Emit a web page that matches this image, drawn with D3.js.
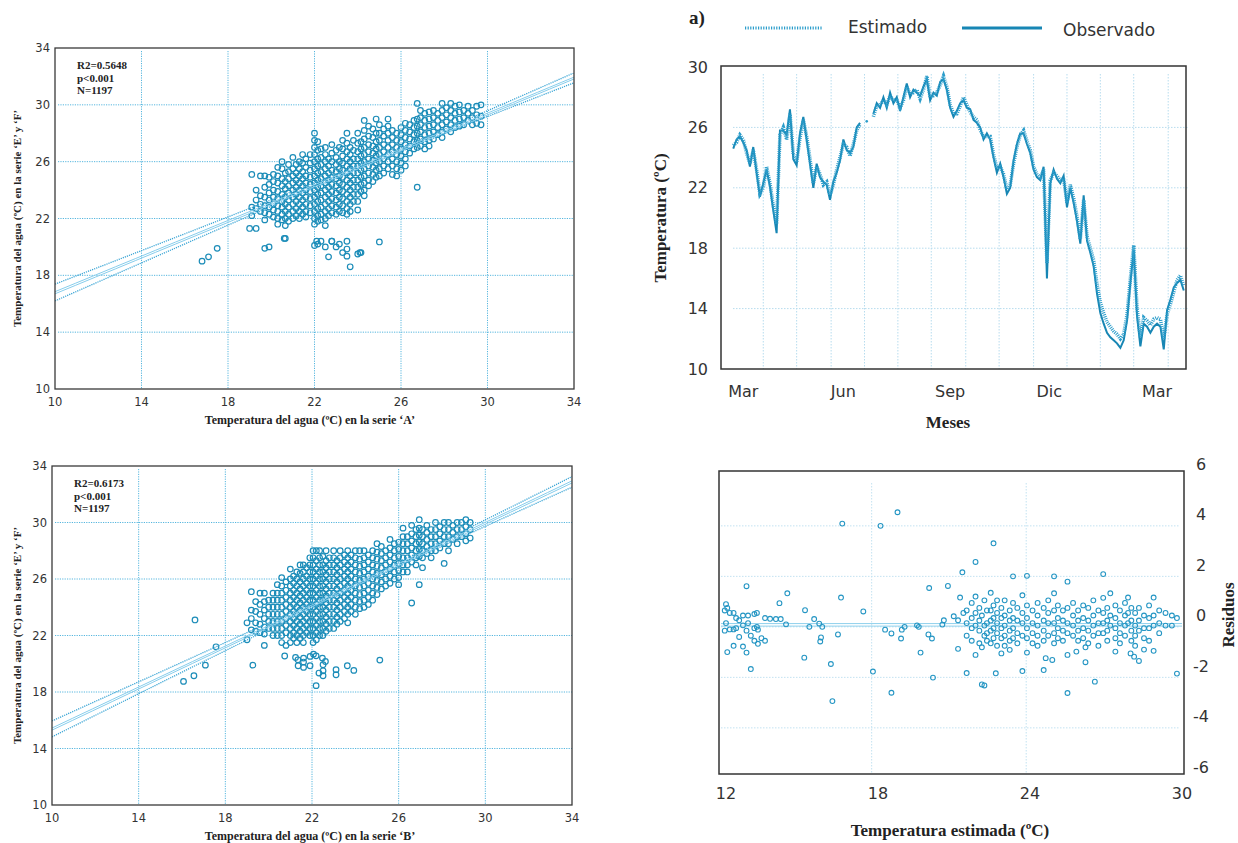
<!DOCTYPE html>
<html>
<head>
<meta charset="utf-8">
<script src="https://cdn.jsdelivr.net/npm/d3@7"></script>
<style>
  body { margin: 0; background: #fff; }
  svg { display: block; }
</style>
</head>
<body>
<svg id="fig" width="1238" height="843"></svg>
<script>
// ---------- data ----------
const scatterTicks = [10, 14, 18, 22, 26, 30, 34]
const scatterGrid = [14, 18, 22, 26, 30]

// columns of the 'A' scatter: [x, [y...]]
const colsA = [
  [19.1, [25.1, 22.8, 22.2]],
  [19.3, [24.0, 23.3, 22.7, 21.3]],
  [19.5, [25.0, 23.6, 23.0, 22.5]],
  [19.7, [25.0, 24.2, 23.5, 22.9, 22.4, 21.9]],
  [19.9, [24.9, 24.4, 23.8, 23.3, 22.8, 22.3, 20.0]],
  [20.1, [25.1, 24.6, 24.0, 23.5, 23.0, 22.6, 22.1]],
  [20.3, [25.6, 25.0, 24.5, 23.9, 23.4, 22.9, 22.5, 22.0, 21.6]],
  [20.5, [26.0, 25.5, 24.8, 24.3, 23.7, 23.2, 22.8, 22.3, 21.9]],
  [20.65, [25.2, 24.6, 24.1, 23.5, 23.0, 22.5, 22.0, 21.5, 20.6]],
  [20.8, [25.8, 25.3, 24.8, 24.3, 23.8, 23.3, 22.8, 22.3, 21.8]],
  [21.0, [26.3, 25.5, 25.0, 24.5, 24.0, 23.5, 23.0, 22.5, 22.0]],
  [21.15, [25.8, 25.2, 24.7, 24.2, 23.7, 23.2, 22.7, 22.2]],
  [21.3, [26.0, 25.5, 25.0, 24.5, 24.0, 23.5, 23.0, 22.5, 22.0]],
  [21.45, [26.5, 25.9, 25.3, 24.8, 24.3, 23.8, 23.3, 22.8, 22.3]],
  [21.6, [26.2, 25.6, 25.0, 24.5, 24.0, 23.5, 23.0, 22.5, 22.1]],
  [21.8, [26.5, 25.9, 25.4, 24.9, 24.4, 23.9, 23.4, 22.9, 22.4]],
  [22.0, [28.0, 27.5, 27.0, 26.5, 26.0, 25.5, 25.0, 24.5, 24.0, 23.5, 23.0, 22.5, 22.0, 21.6, 20.1]],
  [22.15, [27.4, 26.8, 26.2, 25.7, 25.2, 24.7, 24.2, 23.7, 23.2, 22.7, 22.2, 21.8, 20.2]],
  [22.3, [26.9, 26.3, 25.8, 25.3, 24.8, 24.3, 23.8, 23.3, 22.8, 22.3, 21.9, 20.4]],
  [22.5, [27.0, 26.5, 26.0, 25.5, 25.0, 24.5, 24.0, 23.5, 23.0, 22.5, 22.0, 21.5, 20.0]],
  [22.65, [26.2, 25.7, 25.2, 24.7, 24.2, 23.7, 23.2, 22.7, 22.2, 19.3]],
  [22.8, [27.2, 26.6, 26.0, 25.4, 24.9, 24.4, 23.9, 23.4, 22.9, 22.4, 20.4]],
  [23.0, [26.8, 26.3, 25.8, 25.3, 24.8, 24.3, 23.8, 23.3, 22.8, 22.3, 20.0]],
  [23.15, [27.0, 26.0, 25.5, 25.0, 24.5, 24.0, 23.5, 23.0, 22.5, 20.2]],
  [23.3, [27.5, 26.9, 26.4, 25.9, 25.4, 24.9, 24.4, 23.9, 23.4, 22.9, 22.4, 19.6]],
  [23.5, [28.0, 27.3, 26.7, 26.2, 25.7, 25.2, 24.7, 24.2, 23.7, 23.2, 22.7, 22.3, 20.4, 19.85, 19.35]],
  [23.65, [27.0, 26.5, 26.0, 25.5, 25.0, 24.5, 24.0, 23.5, 23.0, 22.5, 18.6]],
  [23.8, [27.5, 26.8, 26.2, 25.7, 25.2, 24.7, 24.2, 23.7, 23.2]],
  [24.0, [28.0, 27.3, 26.7, 26.2, 25.7, 25.2, 24.7, 24.2, 23.7, 23.2, 22.6, 19.5]],
  [24.15, [27.4, 26.9, 26.4, 25.9, 25.4, 24.9, 24.4, 23.9, 19.6]],
  [24.3, [28.9, 28.2, 27.6, 27.0, 26.5, 26.0, 25.5, 25.0, 24.5, 24.0, 23.6]],
  [24.5, [28.5, 27.8, 27.2, 26.7, 26.2, 25.7, 25.2, 24.7, 24.3]],
  [24.7, [28.3, 27.7, 27.1, 26.6, 26.1, 25.6, 25.1, 24.6]],
  [24.85, [29.0, 28.0, 27.4, 26.9, 26.4, 25.9, 25.4, 24.9]],
  [25.0, [28.6, 28.0, 27.5, 27.0, 26.5, 26.0, 25.5, 25.0, 20.35]],
  [25.2, [28.3, 27.8, 27.2, 26.7, 26.2, 25.7, 25.2]],
  [25.4, [29.0, 28.5, 28.0, 27.5, 27.0, 26.5, 26.0, 25.5]],
  [25.6, [28.2, 27.7, 27.2, 26.7, 26.2, 25.7, 25.1]],
  [25.8, [28.0, 27.5, 27.0, 26.5, 26.0, 25.5, 25.0]],
  [26.0, [28.4, 27.9, 27.4, 26.9, 26.4, 25.9, 25.4]],
  [26.2, [28.7, 28.2, 27.7, 27.2, 26.7, 26.2, 25.7]],
  [26.4, [28.6, 28.1, 27.6, 27.1, 26.6]],
  [26.6, [28.9, 28.4, 27.9, 27.4, 26.9]],
  [26.75, [30.1, 29.0, 28.5, 28.0, 27.5, 27.0, 24.2]],
  [26.9, [29.6, 29.1, 28.6, 28.1, 27.6, 27.1]],
  [27.1, [29.4, 28.9, 28.4, 27.9, 27.4, 26.9]],
  [27.3, [29.5, 29.0, 28.5, 28.0, 27.5, 27.1]],
  [27.5, [29.6, 29.1, 28.6, 28.1, 27.6]],
  [27.7, [29.4, 28.9, 28.4, 27.9]],
  [27.9, [30.1, 29.6, 29.1, 28.6, 28.1, 27.7]],
  [28.1, [29.8, 29.3, 28.8, 28.3]],
  [28.3, [30.1, 29.6, 29.1, 28.6, 28.1]],
  [28.5, [29.9, 29.4, 28.9, 28.4]],
  [28.7, [30.0, 29.5, 29.0, 28.5]],
  [28.9, [29.6, 29.1, 28.6]],
  [29.1, [29.9, 29.4, 28.9]],
  [29.3, [29.6, 29.1, 28.6]],
  [29.5, [29.9, 29.3, 28.7]],
  [29.7, [30.0, 29.2, 28.6]]
]
const loneA = [[16.8, 19.0], [17.1, 19.3], [17.5, 19.9], [19.0, 21.3], [19.7, 19.9], [20.6, 20.6], [22.1, 20.4], [22.8, 20.4], [24.1, 19.6]]

const colsB = [
  [19.0, [22.9, 21.7]],
  [19.2, [25.1, 23.8, 23.2, 22.4]],
  [19.4, [24.4, 23.7, 22.9, 22.3]],
  [19.6, [25.0, 24.2, 23.5, 22.8, 22.2]],
  [19.8, [25.0, 24.4, 23.8, 23.2, 22.6, 22.1]],
  [20.0, [24.5, 24.0, 23.5, 23.0, 22.5]],
  [20.2, [25.0, 24.5, 24.0, 23.5, 23.0, 22.5, 22.0]],
  [20.4, [25.6, 25.0, 24.5, 24.0, 23.5, 23.0, 22.5, 22.0]],
  [20.6, [26.1, 25.5, 25.0, 24.5, 24.0, 23.5, 23.0, 22.5, 22.0, 21.5]],
  [20.8, [25.8, 25.2, 24.7, 24.2, 23.7, 23.2, 22.7, 22.2]],
  [21.0, [26.7, 26.0, 25.5, 25.0, 24.5, 24.0, 23.5, 23.0, 22.5, 22.0, 21.5]],
  [21.15, [26.2, 25.7, 25.2, 24.7, 24.2, 23.7, 23.2, 22.7, 22.2, 21.8]],
  [21.3, [26.5, 26.0, 25.5, 25.0, 24.5, 24.0, 23.5, 23.0, 22.5, 22.0, 21.5]],
  [21.45, [27.0, 26.4, 25.8, 25.3, 24.8, 24.3, 23.8, 23.3, 22.8, 22.3, 21.8]],
  [21.6, [27.0, 26.5, 26.0, 25.5, 25.0, 24.5, 24.0, 23.5, 23.0, 22.5, 22.0, 21.5]],
  [21.75, [26.8, 26.2, 25.7, 25.2, 24.7, 24.2, 23.7, 23.2, 22.7, 22.2]],
  [21.9, [27.5, 27.0, 26.5, 26.0, 25.5, 25.0, 24.5, 24.0, 23.5, 23.0, 22.5, 22.0]],
  [22.05, [28.0, 27.5, 27.0, 26.5, 26.0, 25.5, 25.0, 24.5, 24.0, 23.5, 23.0, 22.5, 22.0, 21.5]],
  [22.2, [28.0, 27.3, 26.7, 26.2, 25.7, 25.2, 24.7, 24.2, 23.7, 23.2, 22.7, 22.2, 21.7]],
  [22.35, [28.0, 27.5, 27.0, 26.5, 26.0, 25.5, 25.0, 24.5, 24.0, 23.5, 23.0, 22.5, 22.0]],
  [22.5, [27.6, 27.0, 26.5, 26.0, 25.5, 25.0, 24.5, 24.0, 23.5, 23.0, 22.5, 22.0]],
  [22.65, [28.0, 27.3, 26.8, 26.3, 25.8, 25.3, 24.8, 24.3, 23.8, 23.3, 22.8, 22.3]],
  [22.8, [27.5, 27.0, 26.5, 26.0, 25.5, 25.0, 24.5, 24.0, 23.5, 23.0, 22.5]],
  [23.0, [28.0, 27.5, 27.0, 26.5, 26.0, 25.5, 25.0, 24.5, 24.0, 23.5, 23.0, 22.5]],
  [23.15, [27.3, 26.8, 26.3, 25.8, 25.3, 24.8, 24.3, 23.8, 23.3, 22.8]],
  [23.3, [28.0, 27.5, 27.0, 26.5, 26.0, 25.5, 25.0, 24.5, 24.0, 23.5, 23.0]],
  [23.5, [27.7, 27.2, 26.7, 26.2, 25.7, 25.2, 24.7, 24.2, 23.7, 23.2]],
  [23.65, [28.0, 27.5, 27.0, 26.5, 26.0, 25.5, 25.0, 24.5, 24.0, 23.5, 22.9]],
  [23.8, [27.7, 27.2, 26.7, 26.2, 25.7, 25.2, 24.7, 24.2, 23.7]],
  [24.0, [28.0, 27.5, 27.0, 26.5, 26.0, 25.5, 25.0, 24.5, 24.0, 23.5]],
  [24.2, [28.0, 27.4, 26.9, 26.4, 25.9, 25.4, 24.9, 24.4, 23.9]],
  [24.4, [28.0, 27.5, 27.0, 26.5, 26.0, 25.5, 25.0, 24.5, 24.0]],
  [24.6, [27.7, 27.2, 26.7, 26.2, 25.7, 25.2, 24.7, 24.2]],
  [24.8, [28.0, 27.5, 27.0, 26.5, 26.0, 25.5, 25.0, 24.5]],
  [25.0, [28.5, 27.9, 27.4, 26.9, 26.4, 25.9, 25.4, 24.9]],
  [25.2, [28.3, 27.8, 27.3, 26.8, 26.3, 25.8, 25.3]],
  [25.4, [28.0, 27.5, 27.0, 26.5, 26.0, 25.5]],
  [25.6, [28.8, 28.2, 27.7, 27.2, 26.7, 26.2, 25.7]],
  [25.8, [28.5, 28.0, 27.5, 27.0, 26.5, 26.0]],
  [26.0, [28.6, 28.1, 27.6, 27.1, 26.6, 26.1, 25.6]],
  [26.2, [29.6, 29.0, 28.5, 28.0, 27.5, 27.0, 26.5]],
  [26.4, [29.0, 28.5, 28.0, 27.5, 27.0, 26.5]],
  [26.6, [29.8, 29.2, 28.7, 28.2, 27.7, 27.2, 24.3]],
  [26.8, [29.5, 29.0, 28.5, 28.0, 27.5, 27.0]],
  [26.95, [30.2, 29.6, 29.1, 28.6, 28.1, 27.6, 25.6]],
  [27.1, [29.5, 29.0, 28.5, 28.0, 27.5, 26.8]],
  [27.3, [29.8, 29.3, 28.8, 28.3, 27.8]],
  [27.5, [29.5, 29.0, 28.5, 28.0, 27.5]],
  [27.7, [30.0, 29.5, 29.0, 28.5, 28.0]],
  [27.9, [29.7, 29.2, 28.7, 28.2]],
  [28.1, [30.0, 29.5, 29.0, 28.5, 27.1]],
  [28.3, [30.0, 29.5, 29.0, 28.5, 28.0]],
  [28.5, [29.8, 29.3, 28.8]],
  [28.7, [30.0, 29.5, 29.0, 28.5]],
  [28.9, [30.0, 29.5, 29.0]],
  [29.1, [30.2, 29.7, 29.2, 28.7]],
  [29.3, [30.0, 29.5, 28.9]]
]
const loneB = [
  [16.07, 18.75], [16.55, 19.15], [17.08, 19.9], [17.57, 21.2], [16.6, 23.1], [19.27, 19.9], [19.8, 21.3],
  [20.74, 20.55], [20.8, 21.3], [21.24, 20.45], [21.35, 20.28], [21.36, 19.86], [21.61, 20.4], [21.61, 20.12],
  [21.61, 19.74], [21.91, 20.52], [21.91, 19.86], [22.07, 20.68], [22.19, 20.56], [22.19, 18.45], [22.32, 19.34],
  [22.48, 20.4], [22.51, 19.93], [22.51, 19.5], [22.51, 19.15], [22.62, 20.16], [23.11, 19.58], [23.11, 19.22],
  [23.63, 19.86], [23.93, 19.53], [25.13, 20.26]
]

// regression line and its bands at three x values
const fitX = [10, 24, 34]
const fitA = { up: [17.38, 25.75, 32.25], mid: [16.85, 25.63, 31.95], mid2: [16.7, 25.5, 31.82], lo: [16.2, 25.45, 31.55] }
const fitB = { up: [15.95, 25.75, 33.25], mid: [15.45, 25.62, 32.95], mid2: [15.3, 25.5, 32.8], lo: [14.82, 25.42, 32.5] }

// time series: one value every 3 days from day 11
const tsStart = 11
const tsStep = 3
const tsObs = [
  24.6, 25.2, 25.4, 25.0, 24.5, 23.4, 24.7, 23.0, 21.4, 22.3,
  23.2, 22.1, 20.5, 19.0, 25.8, 25.8, 25.5, 27.2, 23.9, 23.5,
  25.6, 26.7, 25.2, 23.6, 22.0, 23.6, 22.7, 22.4, 22.2, 21.2,
  22.4, 23.0, 23.8, 25.2, 24.5, 24.3, 24.7, 26.0, 26.3,
  null, 26.4, null,
  26.9, 27.6, 27.3, 28.0, 27.3, 28.3, 27.6, 28.0, 27.1, 28.0,
  28.9, 28.0, 28.5, 28.3, 28.1, 28.7, 29.2, 27.8, 28.3, 28.1,
  29.0, 29.2, 28.5, 27.3, 26.7, 27.1, 27.6, 27.8, 27.3, 27.2,
  26.5, 26.3, 26.0, 25.2, 25.6, 25.2, 24.0, 23.0, 23.6, 22.7,
  21.6, 22.0, 23.8, 24.9, 25.6, 25.6, 24.9, 24.3, 23.2, 22.7,
  22.5, 23.4, 16.0, 22.3, 23.2, 22.6, 22.3, 22.8, 20.7, 22.0,
  21.0, 19.8, 18.3, 21.5, 18.5, 17.7, 16.8, 15.0, 13.7, 13.0,
  12.4, 12.1, 11.9, 11.7, 11.4, 11.9, 13.2, 15.7, 17.9, 13.5,
  11.5, 13.0, 12.8, 12.4, 12.8, 13.0, 12.8, 11.3, 13.9, 14.6,
  15.4, 15.7, 15.9, 15.2
]
const tsEst = [
  24.8, 25.0, 25.5, 25.2, 24.3, 23.6, 24.5, 23.2, 21.6, 22.0,
  23.4, 22.3, 20.8, 19.6, 25.5, 26.0, 25.2, 26.9, 24.2, 23.7,
  25.3, 26.5, 25.4, 23.9, 22.3, 23.4, 22.9, 22.2, 22.4, 21.5,
  22.2, 23.2, 24.0, 24.9, 24.7, 24.1, 24.9, 25.8, 26.2,
  null, 26.3, null,
  26.7, 27.4, 27.5, 27.8, 27.5, 28.1, 27.8, 27.8, 27.3, 27.8,
  28.7, 28.2, 28.3, 28.5, 27.9, 28.5, 29.4, 28.0, 28.1, 28.3,
  28.8, 29.4, 28.7, 27.5, 26.9, 26.9, 27.4, 28.0, 27.5, 27.0,
  26.7, 26.5, 25.8, 25.4, 25.4, 25.4, 24.2, 23.3, 23.4, 22.9,
  21.9, 22.2, 23.6, 24.7, 25.5, 25.8, 25.1, 24.5, 23.4, 22.9,
  22.7, 23.2, 17.0, 22.5, 23.0, 22.8, 22.5, 22.6, 21.0, 22.2,
  21.3, 20.1, 18.6, 21.2, 18.8, 18.0, 17.2, 15.6, 14.4, 13.7,
  13.1, 12.8, 12.5, 12.3, 12.0, 12.3, 13.6, 16.0, 18.2, 14.0,
  12.1, 13.4, 13.2, 12.9, 13.3, 13.4, 13.3, 12.0, 13.6, 14.3,
  15.1, 15.9, 16.2, 15.5
]
const tsTicksY = [10, 14, 18, 22, 26, 30]
const tsGridY = [14, 18, 22, 26]
const tsGridDays = [38, 68, 99, 129, 159, 189, 220, 250, 281, 311, 341, 371, 402]
const monthDays = [20, 110, 206, 295, 392]
const monthLabels = ["Mar", "Jun", "Sep", "Dic", "Mar"]

// residuals: columns [x, [y...]]
const resCols = [
  [11.95, [0.2, -0.6]], [12.0, [0.45, -0.3]], [12.05, [-1.45, 0.3]], [12.15, [-0.55, 0.1]],
  [12.3, [-0.55, 0.1, -1.2]], [12.4, [-0.5, -0.1]], [12.52, [-0.19, -0.85]], [12.67, [0.0, -0.39, -1.23]],
  [12.81, [1.16, -0.6, -1.47]], [12.87, [0.0, -0.3]], [12.98, [-2.12, -0.8]], [13.12, [0.06, -0.5, -1.0]],
  [13.22, [-0.45, 0.1]], [13.26, [-0.56, -1.12]], [13.4, [-0.9]], [13.54, [-0.1, -1.0]], [13.74, [-0.13]],
  [13.97, [-0.14]], [14.11, [0.49]], [14.16, [-0.14]], [14.37, [-0.35]], [14.42, [0.88]],
  [15.09, [-1.67]], [15.12, [0.21]], [15.29, [-0.45]], [15.48, [-0.14]], [15.68, [-0.32]],
  [15.72, [-1.03]], [15.75, [-0.87]], [15.8, [-0.45]], [16.14, [-1.92]], [16.2, [-3.39]],
  [16.42, [-0.75]], [16.54, [0.71]], [16.59, [3.64]], [17.42, [0.16]], [17.8, [-2.22]],
  [18.1, [3.55]], [18.28, [-0.56]], [18.53, [-0.71, -3.06]], [18.77, [4.09]], [18.91, [-0.91]],
  [18.94, [-0.56]], [19.05, [-0.45]], [19.54, [-0.39]], [19.61, [-0.45]], [19.68, [-1.47]],
  [19.99, [-0.75]], [20.02, [1.09]], [20.13, [-0.91]], [20.17, [-2.46]], [20.54, [-0.36]],
  [20.6, [-0.19]], [20.76, [1.17]], [20.99, [-0.03]], [21.16, [-0.19, -1.32]], [21.24, [0.71]],
  [21.33, [1.71]], [21.37, [0.1]],
  [21.5, [0.2, -0.3, -0.8, -2.28]], [21.7, [0.5, -0.1, -0.5, -1.0]], [21.85, [0.75, 0.1, -0.4, -1.56, 2.12]],
  [22.0, [0.3, -0.2, -0.6, -1.1]], [22.1, [0.0, -1.26, -2.73]], [22.2, [0.6, -0.4, -0.8, -2.77]],
  [22.3, [0.2, -0.3, -0.7, -1.0]], [22.45, [0.9, 0.2, -0.2, -0.6, -1.1]],
  [22.56, [2.86, 0.4, -0.1, -0.5, -0.9]], [22.65, [-2.29]], [22.7, [0.6, 0.1, -0.3, -0.7, -1.2]],
  [22.87, [0.3, -0.1, -0.5, -0.9, -1.5]], [23.0, [0.6, 0.0, -0.4, -0.8, -1.2]],
  [23.2, [0.2, -0.2, -0.6, -1.0, -1.36]], [23.33, [1.55, 0.5, -0.1, -0.5, -0.9]],
  [23.5, [0.3, -0.2, -0.7, -1.1]], [23.7, [0.8, 0.1, -0.3, -0.8, -2.2]],
  [23.88, [1.57, 0.4, -0.1, -0.5, -0.9, -1.47]], [24.1, [0.2, -0.3, -0.7, -1.1]],
  [24.3, [0.5, 0.0, -0.4, -0.8, -1.2]], [24.54, [0.3, -0.2, -0.6, -1.0, -2.16]],
  [24.62, [-1.69]], [24.72, [0.6, 0.1, -0.3, -0.8]], [24.88, [-1.76]],
  [24.95, [1.55, 0.88, 0.2, -0.3, -0.7, -1.1]], [25.1, [0.4, -0.1, -0.5, -0.9]],
  [25.3, [0.2, -0.2, -0.6, -1.0]], [25.48, [1.34, 0.3, -0.3, -0.7, -1.56, -3.07]],
  [25.7, [0.5, 0.0, -0.4, -0.8]], [25.83, [-1.43]], [25.9, [0.2, -0.2, -0.6, -1.0]],
  [26.1, [0.4, -0.1, -0.5, -0.9]], [26.19, [-1.26, -1.85]], [26.3, [0.3, -0.2, -0.6, -1.1]],
  [26.5, [0.6, 0.0, -0.4, -0.8]], [26.56, [-2.62]], [26.7, [0.2, -0.3, -0.7, -1.2]],
  [26.89, [1.64, 0.7, 0.1, -0.3, -0.7]], [27.05, [0.3, -0.2, -0.6, -1.0]],
  [27.17, [0.88, 0.0, -0.4]], [27.37, [0.4, -0.1, -0.5, -0.9, -1.43]],
  [27.55, [0.2, -0.3, -0.7, -1.1]], [27.75, [0.5, 0.0, -0.4, -0.8]],
  [27.87, [0.71, 0.1, -0.3]], [27.97, [-1.5]], [28.0, [0.3, -0.2, -0.6, -1.0]],
  [28.11, [-1.63]], [28.15, [0.1, -0.4, -0.8, -1.2]], [28.3, [0.3, -0.2, -0.6, -1.8]],
  [28.5, [0.0, -0.5, -0.9, -1.35]], [28.7, [0.4, -0.1, -0.5, -1.0]],
  [28.88, [0.71, 0.0, -0.4, -1.4]], [29.1, [0.2, -0.3, -0.7]], [29.35, [0.1, -0.4]],
  [29.6, [0.0, -0.4]], [29.8, [-2.3, -0.1]]
]
const resTicksX = [12, 18, 24, 30]
const resTicksY = [6, 4, 2, 0, -2, -4, -6]
const resGridY = [3.55, 1.55, -0.45, -2.45, -4.45]
const resGridX = [17.75, 23.85]
const resMeanY = [-0.32, -0.42]

// ---------- drawing ----------
const svg = d3.select("#fig")
const blue = "#1b8cb8"
const gridBlue = "#56b6de"
const sans = "'DejaVu Sans', sans-serif"
const serif = "'Liberation Serif', serif"

function flatten(cols, lone) {
  let pts = []
  cols.forEach(([x, ys]) => ys.forEach(y => pts.push([x, y])))
  return pts.concat(lone)
}

function scatterPanel(cfg) {
  let g = svg.append("g")
  let x = d3.scaleLinear().domain([10, 34]).range([cfg.left, cfg.right])
  let y = d3.scaleLinear().domain([10, 34]).range([cfg.bottom, cfg.top])

  g.append("clipPath").attr("id", cfg.id)
    .append("rect")
    .attr("x", cfg.left).attr("y", cfg.top)
    .attr("width", cfg.right - cfg.left).attr("height", cfg.bottom - cfg.top)

  // dotted grid
  g.selectAll("line.gx").data(scatterGrid).join("line")
    .attr("class", "gx")
    .attr("x1", x).attr("x2", x)
    .attr("y1", cfg.top + 3).attr("y2", cfg.bottom)
    .attr("stroke", gridBlue).attr("stroke-width", 1).attr("stroke-dasharray", "1.2,1.2")
  g.selectAll("line.gy").data(scatterGrid).join("line")
    .attr("class", "gy")
    .attr("x1", cfg.left + 3).attr("x2", cfg.right)
    .attr("y1", y).attr("y2", y)
    .attr("stroke", gridBlue).attr("stroke-width", 1).attr("stroke-dasharray", "1.2,1.2")

  // points
  g.append("g").attr("clip-path", `url(#${cfg.id})`)
    .selectAll("circle").data(flatten(cfg.cols, cfg.lone)).join("circle")
    .attr("cx", d => x(d[0])).attr("cy", d => y(d[1])).attr("r", 2.8)
    .attr("fill", "none").attr("stroke", blue).attr("stroke-width", 1.2)

  // fit lines
  let fit = cfg.fit
  let path = key => d3.line().curve(d3.curveNatural)
    .x((d, i) => x(fitX[i])).y(d => y(d))(fit[key])
  let fg = g.append("g").attr("clip-path", `url(#${cfg.id})`).attr("fill", "none")
  fg.append("path").attr("d", path("up")).attr("stroke", "#3aa5d5").attr("stroke-width", 1.3).attr("stroke-dasharray", "1.2,1")
  fg.append("path").attr("d", path("lo")).attr("stroke", "#3aa5d5").attr("stroke-width", 1.3).attr("stroke-dasharray", "1.2,1")
  fg.append("path").attr("d", path("mid")).attr("stroke", "#86cdec").attr("stroke-width", 1)
  fg.append("path").attr("d", path("mid2")).attr("stroke", "#86cdec").attr("stroke-width", 1)

  // frame
  g.append("rect")
    .attr("x", cfg.left).attr("y", cfg.top)
    .attr("width", cfg.right - cfg.left).attr("height", cfg.bottom - cfg.top)
    .attr("fill", "none").attr("stroke", "#3a3a3a").attr("stroke-width", 1.3)

  // tick labels
  g.selectAll("text.ty").data(scatterTicks).join("text")
    .attr("class", "ty")
    .attr("x", cfg.left - 5).attr("y", y).attr("dy", "0.35em")
    .attr("text-anchor", "end")
    .style("font", `11.5px ${sans}`).attr("fill", "#333")
    .text(d => d)
  g.selectAll("text.tx").data(scatterTicks).join("text")
    .attr("class", "tx")
    .attr("x", x).attr("y", cfg.bottom + 17)
    .attr("text-anchor", "middle")
    .style("font", `11.5px ${sans}`).attr("fill", "#333")
    .text(d => d)

  // axis titles
  g.append("text")
    .attr("x", 310).attr("y", cfg.bottom + 35)
    .attr("text-anchor", "middle")
    .style("font", `bold 12px ${serif}`).attr("fill", "#222")
    .text(cfg.xTitle)
  g.append("text")
    .attr("transform", `translate(21,${(cfg.top + cfg.bottom) / 2}) rotate(-90)`)
    .attr("text-anchor", "middle")
    .style("font", `bold 11px ${serif}`).attr("fill", "#222")
    .text("Temperatura del agua (ºC) en la serie ‘E’ y ‘F’")

  // stats box
  g.selectAll("text.st").data(cfg.stats).join("text")
    .attr("class", "st")
    .attr("x", cfg.left + 22).attr("y", (d, i) => cfg.top + 21 + i * 12.5)
    .style("font", `bold 11px ${serif}`).attr("fill", "#222")
    .text(d => d)
}

scatterPanel({
  id: "clipA", left: 55, right: 574, top: 48, bottom: 389,
  cols: colsA, lone: loneA, fit: fitA,
  stats: ["R2=0.5648", "p<0.001", "N=1197"],
  xTitle: "Temperatura del agua (ºC) en la serie ‘A’"
})
scatterPanel({
  id: "clipB", left: 52, right: 572, top: 466, bottom: 805,
  cols: colsB, lone: loneB, fit: fitB,
  stats: ["R2=0.6173", "p<0.001", "N=1197"],
  xTitle: "Temperatura del agua (ºC) en la serie ‘B’"
})

// ---------- time series ----------
{
  let g = svg.append("g")
  let x = d3.scaleLinear().domain([0, 418]).range([721, 1186])
  let y = d3.scaleLinear().domain([10, 30]).range([369, 67])
  let grid = "#b7dcee"

  g.selectAll("line.gy").data(tsGridY).join("line")
    .attr("x1", 733).attr("x2", 1189).attr("y1", y).attr("y2", y)
    .attr("stroke", grid).attr("stroke-dasharray", "1.5,1.5")
  g.selectAll("line.gx").data(tsGridDays).join("line")
    .attr("x1", x).attr("x2", x).attr("y1", 74).attr("y2", 369)
    .attr("stroke", grid).attr("stroke-dasharray", "1.5,1.5")

  let toPts = vals => vals.map((v, i) => ({ day: tsStart + i * tsStep, v }))
  let line = d3.line().defined(d => d.v != null).x(d => x(d.day)).y(d => y(d.v))

  g.append("path").attr("d", line(toPts(tsObs)))
    .attr("fill", "none").attr("stroke", "#1786b4").attr("stroke-width", 2)
  g.append("path").attr("d", line(toPts(tsEst)))
    .attr("fill", "none").attr("stroke", "#2b9dcb").attr("stroke-width", 3.6)
    .attr("stroke-dasharray", "1,1.1")
  // isolated readings
  let lone = toPts(tsObs).filter((d, i, a) => d.v != null && a[i - 1] && a[i - 1].v == null && a[i + 1] && a[i + 1].v == null)
  g.selectAll("circle.lone").data(lone).join("circle")
    .attr("cx", d => x(d.day)).attr("cy", d => y(d.v)).attr("r", 1.3).attr("fill", "#2b9dcb")

  g.append("rect").attr("x", 721).attr("y", 66).attr("width", 465).attr("height", 303)
    .attr("fill", "none").attr("stroke", "#333").attr("stroke-width", 1.5)

  g.selectAll("text.ty").data(tsTicksY).join("text")
    .attr("x", 708).attr("y", y).attr("dy", "0.35em").attr("text-anchor", "end")
    .style("font", `16px ${sans}`).attr("fill", "#333").text(d => d)
  g.selectAll("text.tx").data(monthDays).join("text")
    .attr("x", x).attr("y", 397).attr("text-anchor", "middle")
    .style("font", `16px ${sans}`).attr("fill", "#333").text((d, i) => monthLabels[i])

  g.append("text").attr("x", 948).attr("y", 428).attr("text-anchor", "middle")
    .style("font", `bold 17px ${serif}`).attr("fill", "#222").text("Meses")
  g.append("text").attr("transform", "translate(666,218) rotate(-90)").attr("text-anchor", "middle")
    .style("font", `bold 17px ${serif}`).attr("fill", "#222").text("Temperatura (ºC)")
  g.append("text").attr("x", 689).attr("y", 24)
    .style("font", `bold 19px ${serif}`).attr("fill", "#222").text("a)")

  // legend
  g.append("line").attr("x1", 745).attr("x2", 823).attr("y1", 28).attr("y2", 28)
    .attr("stroke", "#2b9dcb").attr("stroke-width", 3).attr("stroke-dasharray", "1.2,1.4")
  g.append("text").attr("x", 848).attr("y", 33)
    .style("font", `17px ${sans}`).attr("fill", "#333").text("Estimado")
  g.append("line").attr("x1", 962).attr("x2", 1042).attr("y1", 28).attr("y2", 28)
    .attr("stroke", "#1786b4").attr("stroke-width", 3)
  g.append("text").attr("x", 1063).attr("y", 36)
    .style("font", `17px ${sans}`).attr("fill", "#333").text("Observado")
}

// ---------- residuals ----------
{
  let g = svg.append("g")
  let x = d3.scaleLinear().domain([12, 30]).range([726, 1182])
  let y = d3.scaleLinear().domain([-6, 6]).range([767, 464])
  let grid = "#c3e2f1"

  g.selectAll("line.gy").data(resGridY).join("line")
    .attr("x1", 721).attr("x2", 1180).attr("y1", y).attr("y2", y)
    .attr("stroke", grid).attr("stroke-dasharray", "1.5,1.5")
  g.selectAll("line.gx").data(resGridX).join("line")
    .attr("x1", x).attr("x2", x).attr("y1", 483).attr("y2", 774)
    .attr("stroke", grid).attr("stroke-dasharray", "1.5,1.5")
  g.selectAll("line.mean").data(resMeanY).join("line")
    .attr("x1", 721).attr("x2", 1182).attr("y1", y).attr("y2", y)
    .attr("stroke", "#8fd0ec").attr("stroke-width", 1)

  g.selectAll("circle").data(flatten(resCols, [])).join("circle")
    .attr("cx", d => x(d[0])).attr("cy", d => y(d[1])).attr("r", 2.4)
    .attr("fill", "none").attr("stroke", "#2596c4").attr("stroke-width", 1.1)

  g.append("rect").attr("x", 719).attr("y", 471).attr("width", 465).attr("height", 303)
    .attr("fill", "none").attr("stroke", "#333").attr("stroke-width", 1.5)

  g.selectAll("text.ty").data(resTicksY).join("text")
    .attr("x", 1201).attr("y", y).attr("dy", "0.35em").attr("text-anchor", "middle")
    .style("font", `16px ${sans}`).attr("fill", "#333").text(d => d)
  g.selectAll("text.tx").data(resTicksX).join("text")
    .attr("x", x).attr("y", 799).attr("text-anchor", "middle")
    .style("font", `16px ${sans}`).attr("fill", "#333").text(d => d)

  g.append("text").attr("x", 950).attr("y", 836).attr("text-anchor", "middle")
    .style("font", `bold 17px ${serif}`).attr("fill", "#222").text("Temperatura estimada (ºC)")
  g.append("text").attr("transform", "translate(1228,615) rotate(-90)").attr("text-anchor", "middle")
    .attr("dy", "0.35em")
    .style("font", `bold 17px ${serif}`).attr("fill", "#222").text("Residuos")
}
</script>
</body>
</html>
